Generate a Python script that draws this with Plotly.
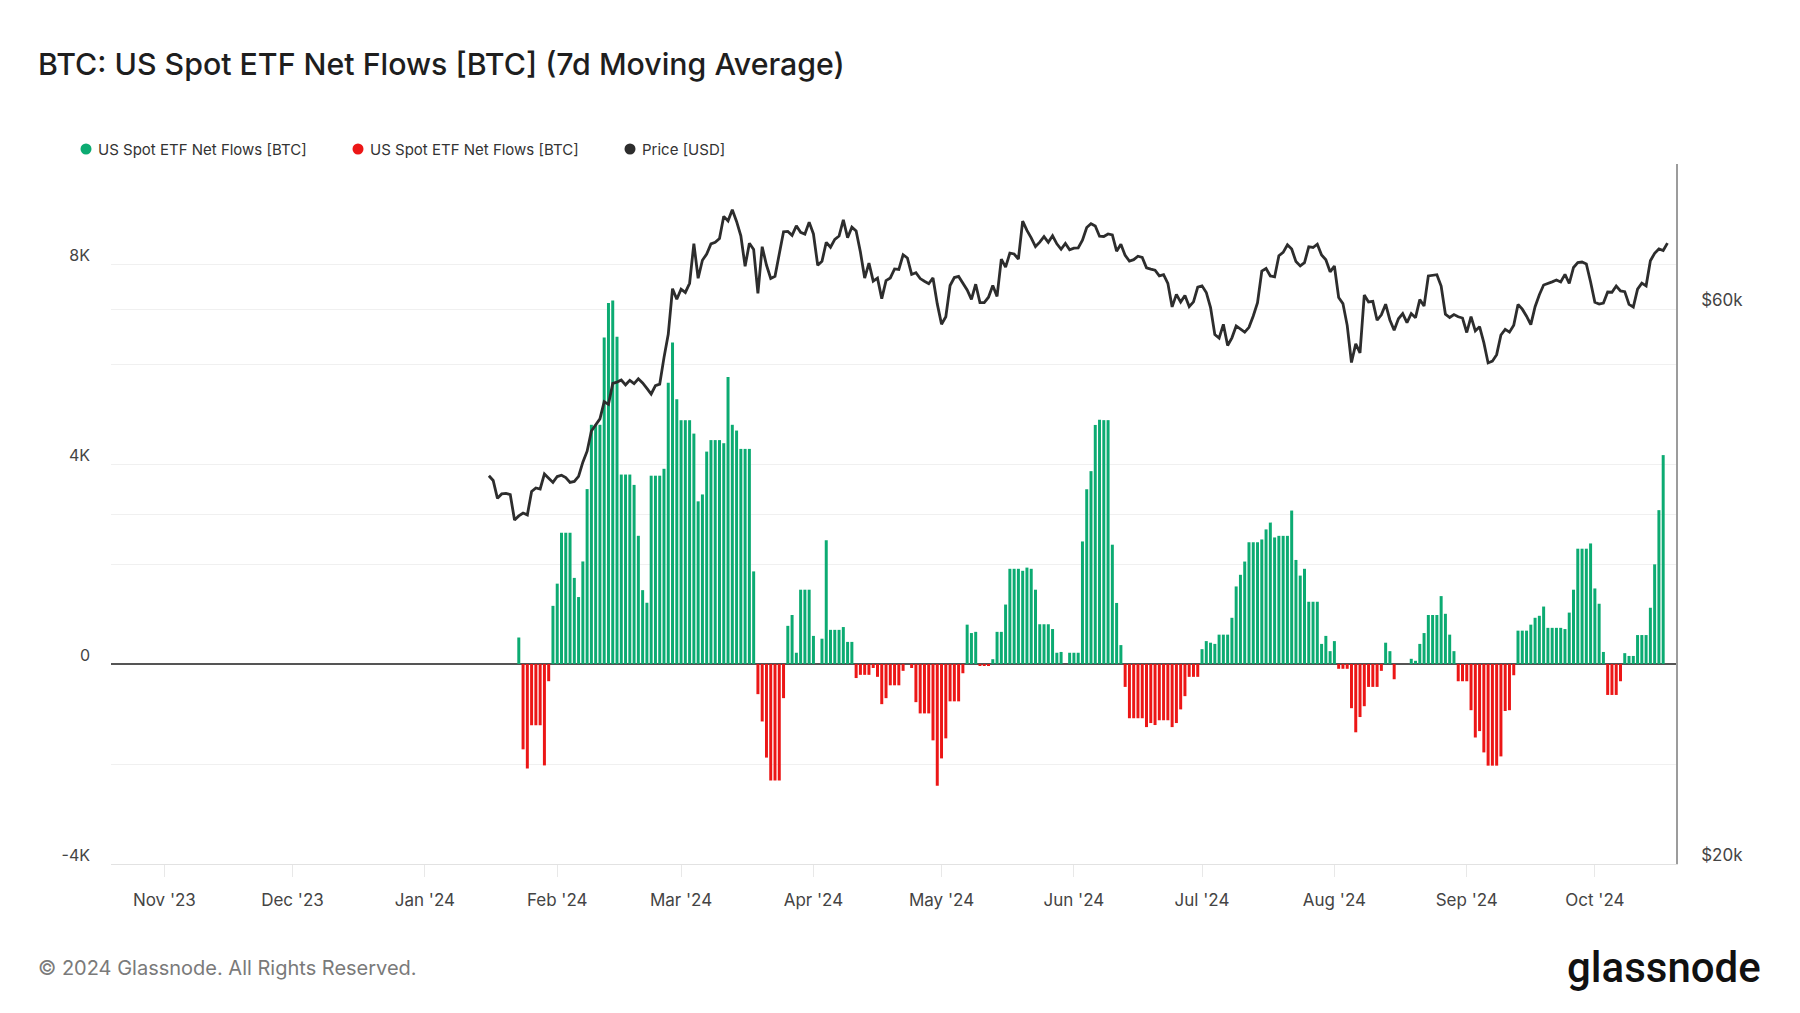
import math
import pandas as pd
import plotly.graph_objects as go

# ---------------- data ----------------
# 7d moving average of US spot ETF net flows [BTC], daily, first value on flow_start
flow_start = "2024-01-23"
flows = [
    530,
    -1707, -2090, -1225, -1225, -1225, -2028, -344,
    1163, 1607, 2625, 2625, 2625, 1722, 1339, 2051, 3498, 4784, 4784, 4784,
    6529, 7218, 7271, 6544, 3789, 3789, 3789, 3582, 2564, 1477, 1225, 3766,
    3766, 3766, 3904, 5626, 6429, 5297, 4876, 4876, 4876, 4608, 3253, 3391,
    4248, 4478, 4478, 4478, 4416, 5741, 4784, 4669, 4302, 4302, 4302, 1852,
    -603, -1149, -1872, -2330, -2330, -2330, -683,
    763, 980, 225, 1486, 1486, 1486, 562, 0, 506, 2475, 683, 683, 683, 739, 442, 442,
    -281, -217, -217, -217, -80, -257, -803, -683, -426, -426, -426, -137,
    0,
    -80, -763, -988, -988, -988, -1527, -2435, -1888, -1487, -747, -747, -747, -185,
    787, 619, 643, -40, -40, -40, 96, 643, 643, 1189, 1904, 1904, 1904, 1864,
    1928, 1904, 1486, 795, 795, 795, 699, 225, 241, 0, 225, 225, 225, 2451,
    3495, 3857, 4781, 4885,
    4877, 4877, 2386, 1221, 378,
    -458, -1085, -1085, -1085, -1085, -1262, -1181, -1221, -1125, -1125, -1125,
    -1262, -1181, -908, -643, -257, -257, -257,
    297, 458, 426, 402, 587, 587, 587, 924, 1551, 1784, 2049, 2435, 2435, 2435,
    2491, 2692, 2828, 2531, 2563, 2563, 2563, 3069, 2081, 1768, 1904, 1245,
    1245, 1245, 402, 562, 257, 458,
    -96, -96, -96, -884, -1366, -1061, -844, -458, -458, -458, -137,
    426, 257, -305, 0, 0, 0,
    104, 64, 402, 619, 980, 980, 980, 1358, 1004, 587, 257,
    -345, -345, -345, -924, -1470, -1342, -1768, -2033, -2033, -2033, -1848,
    -940, -924, -225,
    667, 667, 667, 787, 924, 964, 1149, 723, 723, 723, 723, 699, 1028, 1486,
    2306, 2306, 2306, 2411, 1511, 1205, 241,
    -619, -619, -619, -345,
    217, 161, 161, 579, 579, 579, 1125, 1993, 3077, 4178,
]

# BTC price [USD], daily, first value on price_start
price_start = "2024-01-16"
price = [
    # Jan 16-31
    43150, 42740, 41260, 41620, 41660, 41570, 39520, 39850, 40080, 39930, 41820,
    42120, 42030, 43300, 42940, 42580,
    # Feb
    43080, 43190, 42990, 42580, 42660, 43090, 44320, 45300, 47150, 47770, 48290,
    49960, 49700, 51810, 51940, 52160, 51660, 52120, 51780, 52280, 51860, 51300,
    50730, 51570, 51730, 54520, 57090, 62500, 61200,
    # Mar
    62440, 62030, 63170, 68330, 63800, 66110, 66930, 68300, 68500, 69020, 72120,
    71480, 73080, 71400, 69400, 65320, 68390, 67550, 61910, 67910, 65490, 63780,
    64060, 67230, 69960, 70000, 69460, 70780, 69880, 69640, 71300,
    # Apr
    69650, 65460, 65980, 68510, 67840, 68900, 69360, 71630, 69140, 70590, 70060,
    67200, 63820, 65740, 63430, 63810, 61280, 63510, 63840, 64990, 64930, 66840,
    66410, 64280, 64500, 63760, 63420, 63110, 63840, 60640,
    # May
    58250, 59120, 62890, 63890, 64030, 63160, 62330, 61190, 63050, 60790, 60790,
    61450, 62900, 61550, 66270, 65230, 67050, 66940, 66280, 71450, 70140, 69120,
    67930, 68530, 69290, 68510, 69390, 68300, 67570, 68350, 67490,
    # Jun
    67710, 67750, 68800, 70550, 71080, 70760, 69340, 69300, 69650, 69510, 67320,
    68240, 66750, 66010, 66190, 66640, 66490, 65140, 64960, 64830, 64100, 64260,
    63160, 60280, 61800, 60860, 61670, 60320, 60890, 62680,
    # Jul
    62850, 62030, 60200, 57060, 56660, 58230, 55850, 56700, 58050, 57720, 57340,
    57890, 59200, 60800, 64720, 65040, 64090, 63970, 66710, 67160, 68180, 67590,
    65940, 65370, 65800, 67910, 67810, 68260, 66810, 66190, 64620,
    # Aug
    65360, 61410, 60680, 58120, 53990, 56030, 55030, 61710, 60880, 60940, 58710,
    59350, 60610, 58740, 57560, 58880, 59490, 58440, 59490, 59010, 61160, 60380,
    64090, 64180, 64250, 62830, 59420, 59030, 59380, 59120, 58970,
    # Sep
    57300, 59130, 57480, 57970, 56160, 53950, 54140, 54840, 57020, 57650, 57340,
    58130, 60570, 60010, 59180, 58210, 60310, 61760, 62950, 63200, 63350, 63580,
    63330, 64300, 63140, 65180, 65800, 65880, 65640, 63330,
    # Oct 1-18
    60840, 60630, 60750, 62080, 62060, 62820, 62220, 62130, 60580, 60270, 62440,
    63190, 62850, 66050, 67040, 67610, 67400, 68400,
]

month_ticks = ["2023-11-01", "2023-12-01", "2024-01-01", "2024-02-01", "2024-03-01",
               "2024-04-01", "2024-05-01", "2024-06-01", "2024-07-01", "2024-08-01",
               "2024-09-01", "2024-10-01"]
month_labels = ["Nov '23", "Dec '23", "Jan '24", "Feb '24", "Mar '24", "Apr '24",
                "May '24", "Jun '24", "Jul '24", "Aug '24", "Sep '24", "Oct '24"]

left_ticks = [-4000, 0, 4000, 8000]
left_labels = ["-4K", "0", "4K", "8K"]
left_minor = [-2000, 2000, 6000, 10000]
right_ticks = [20000, 40000, 60000, 80000]
right_labels = ["$20k", "", "$60k", ""]

legend_names = ["US Spot ETF Net Flows [BTC]", "US Spot ETF Net Flows [BTC]", "Price [USD]"]

# ---------------- style ----------------
GREEN = "#0cab72"
RED = "#ec1616"
PRICE_C = "#2d2d2d"
GRID = "#f0f0f0"
FONT = "Inter, Roboto, Arial, sans-serif"
W, H = 1800, 1013
ML, MR, MT, MB = 111, 124, 164, 149
PW, PH = W - ML - MR, H - MT - MB


def px(x):
    return (x - ML) / PW


def py(y):
    return (H - MB - y) / PH


flow_dates = pd.date_range(flow_start, periods=len(flows), freq="D")
price_dates = pd.date_range(price_start, periods=len(price), freq="D")
pos = [v if v >= 0 else None for v in flows]
neg = [v if v < 0 else None for v in flows]

fig = go.Figure()
fig.add_trace(go.Bar(x=flow_dates, y=pos, marker=dict(color=GREEN, line=dict(width=0)),
                     name=legend_names[0], showlegend=False))
fig.add_trace(go.Bar(x=flow_dates, y=neg, marker=dict(color=RED, line=dict(width=0)),
                     name=legend_names[1], showlegend=False))
fig.add_trace(go.Scatter(x=price_dates, y=price, yaxis="y2", mode="lines",
                         line=dict(color=PRICE_C, width=2.8), name=legend_names[2],
                         showlegend=False))

fig.update_layout(
    width=W, height=H,
    margin=dict(l=ML, r=MR, t=MT, b=MB, pad=0),
    paper_bgcolor="white", plot_bgcolor="white",
    font=dict(family=FONT, color="#444"),
    barmode="overlay", bargap=0.3,
    title=dict(text="BTC: US Spot ETF Net Flows [BTC] (7d Moving Average)",
               x=38 / W, xref="container", xanchor="left",
               y=1 - 64 / H, yref="container", yanchor="middle",
               font=dict(family=FONT, size=30.3, color="#1e1e1e", weight=500)),
    xaxis=dict(type="date", range=["2023-10-19 12:00", "2024-10-20 00:00"],
               tickvals=month_ticks, ticktext=month_labels,
               showgrid=False, zeroline=False,
               showline=True, linecolor="#e2e2e2", linewidth=1,
               ticks="outside", ticklen=12, tickcolor="#e8e8e8", tickwidth=1,
               ticklabelstandoff=9,
               tickfont=dict(family=FONT, size=17, color="#444")),
    yaxis=dict(range=[-4000, 10000], tickvals=left_ticks, ticktext=left_labels,
               showgrid=True, gridcolor=GRID, gridwidth=1,
               minor=dict(tickvals=left_minor, showgrid=True, gridcolor=GRID, ticks=""),
               zeroline=True, zerolinecolor="#555555", zerolinewidth=2,
               showline=False, ticks="", ticklabelposition="outside",
               ticklabelshift=-9, ticklabelstandoff=20,
               tickfont=dict(family=FONT, size=16, color="#444")),
    yaxis2=dict(type="log", range=[math.log10(20000), math.log10(80000)],
                overlaying="y", side="right",
                tickvals=right_ticks, ticktext=right_labels,
                showgrid=True, gridcolor=GRID, gridwidth=1, zeroline=False,
                showline=True, linecolor="#9c9c9c", linewidth=1.5,
                ticks="", ticklabelposition="outside",
                ticklabelshift=-9, ticklabelstandoff=20,
                tickfont=dict(family=FONT, size=17, color="#444")),
)

# ---------------- manual legend ----------------
leg_y = 149
leg_items = [(86, GREEN), (358, RED), (630, PRICE_C)]
for (cx, col), name in zip(leg_items, legend_names):
    fig.add_shape(type="circle", xref="paper", yref="paper",
                  xsizemode="pixel", ysizemode="pixel",
                  xanchor=px(cx), yanchor=py(leg_y),
                  x0=-5.5, x1=5.5, y0=-5.5, y1=5.5,
                  fillcolor=col, line=dict(width=0))
    fig.add_annotation(text=name, xref="paper", yref="paper",
                       x=px(cx + 10), y=py(leg_y), xanchor="left", yanchor="middle",
                       showarrow=False,
                       font=dict(family=FONT, size=15, color="#333"))

# ---------------- footer ----------------
fig.add_annotation(text="© 2024 Glassnode. All Rights Reserved.", xref="paper", yref="paper",
                   x=px(36), y=py(968), xanchor="left", yanchor="middle", showarrow=False,
                   font=dict(family=FONT, size=20, color="#7a7a7a"))
fig.add_annotation(text="glassnode", xref="paper", yref="paper",
                   x=px(1763), y=py(967), xanchor="right", yanchor="middle", showarrow=False,
                   font=dict(family="Roboto, Inter, sans-serif", size=42, color="#111111",
                             weight=500))

fig.write_html("out.html", config={"displayModeBar": False},
               post_script="document.body.style.margin='0';")
